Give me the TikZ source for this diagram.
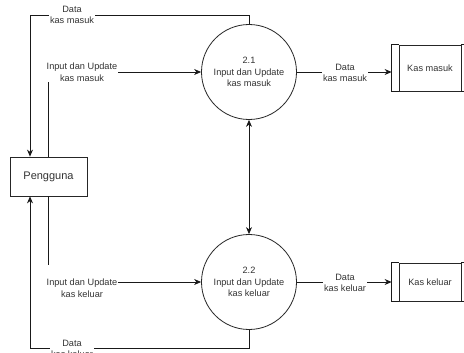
\documentclass[tikz,border=0pt]{standalone}
\usepackage{fontspec}
\setmainfont{Liberation Sans}
\usetikzlibrary{arrows.meta}
\begin{document}
\begin{tikzpicture}[x=1pt,y=-1pt,
  every node/.style={font=\fontsize{9.2}{11.5}\selectfont, text=black!80},
  proc/.style={circle, draw=black!85, line width=0.8pt, minimum size=95pt, inner sep=0pt, align=center},
  ent/.style={rectangle, draw=black!85, line width=0.8pt, minimum width=77pt, minimum height=39pt, font=\fontsize{11}{13}\selectfont},
  store/.style={rectangle, draw=black!85, line width=0.8pt, minimum width=62pt, minimum height=46pt},
  flowlabel/.style={fill=white, inner sep=1pt, align=center},
  flow/.style={draw=black!90, line width=0.8pt},
  arr/.style={flow, -{Stealth[length=7pt,width=6pt]}},
  darr/.style={flow, {Stealth[length=7pt,width=6pt]}-{Stealth[length=7pt,width=6pt]}}
]
\useasboundingbox (0,0) rectangle (464,353);
\clip (0,0) rectangle (464,353);
\fill[white] (0,0) rectangle (464,353);

\node[proc] (p1) at (249,72) {2.1\\Input dan Update\\kas masuk};
\node[proc] (p2) at (249,282) {2.2\\Input dan Update\\kas keluar};
\node[ent] (user) at (48.5,176.5) {Pengguna};

\node[store] (ds1) at (430,68) {Kas masuk};
\draw[flow] (ds1.north west) -- ++(-7,0) -- ([xshift=-7pt]ds1.south west) -- (ds1.south west);
\draw[flow] (ds1.north east) -- ++(7,0) -- ([xshift=7pt]ds1.south east) -- (ds1.south east);
\node[store, minimum height=38pt] (ds2) at (430,282) {Kas keluar};
\draw[flow] (ds2.north west) -- ++(-7,0) -- ([xshift=-7pt]ds2.south west) -- (ds2.south west);
\draw[flow] (ds2.north east) -- ++(7,0) -- ([xshift=7pt]ds2.south east) -- (ds2.south east);

\coordinate (t1) at (30,15);
\coordinate (b1) at (30,348);
\coordinate (c4) at (48.5,265);

% top: data kas masuk back to user
\draw[arr] (p1.north) |- (t1) -- (t1 |- user.north);
\node[flowlabel] (l1) at (72,15) {Data\\kas masuk};

% user -> input kas masuk
\node[flowlabel] (l2) at (82,72) {Input dan Update\\kas masuk};
\draw[flow] (user.north) -- (user.north |- l2.south);
\draw[arr] (l2.east) -- (p1.west);

% p1 -> store
\draw[arr] (p1.east) -- ([xshift=-7pt]ds1.west |- p1.east);
\node[flowlabel] (l3) at (345,73) {Data\\kas masuk};

% p1 <-> p2
\draw[darr] (p1.south) -- (p2.north);

% user -> input kas keluar
\node[flowlabel] (l4) at (82,288) {Input dan Update\\kas keluar};
\draw[flow] (user.south) -- (c4);
\draw[arr] (l4.east |- p2.west) -- (p2.west);

% p2 -> store
\draw[arr] (p2.east) -- ([xshift=-7pt]ds2.west |- p2.east);
\node[flowlabel] (l6) at (345,283) {Data\\kas keluar};

% bottom: data kas keluar back to user
\draw[arr] (p2.south) |- (b1) -- (b1 |- user.south);
\node[flowlabel] (l5) at (72,349) {Data\\kas keluar};
\end{tikzpicture}
\end{document}
